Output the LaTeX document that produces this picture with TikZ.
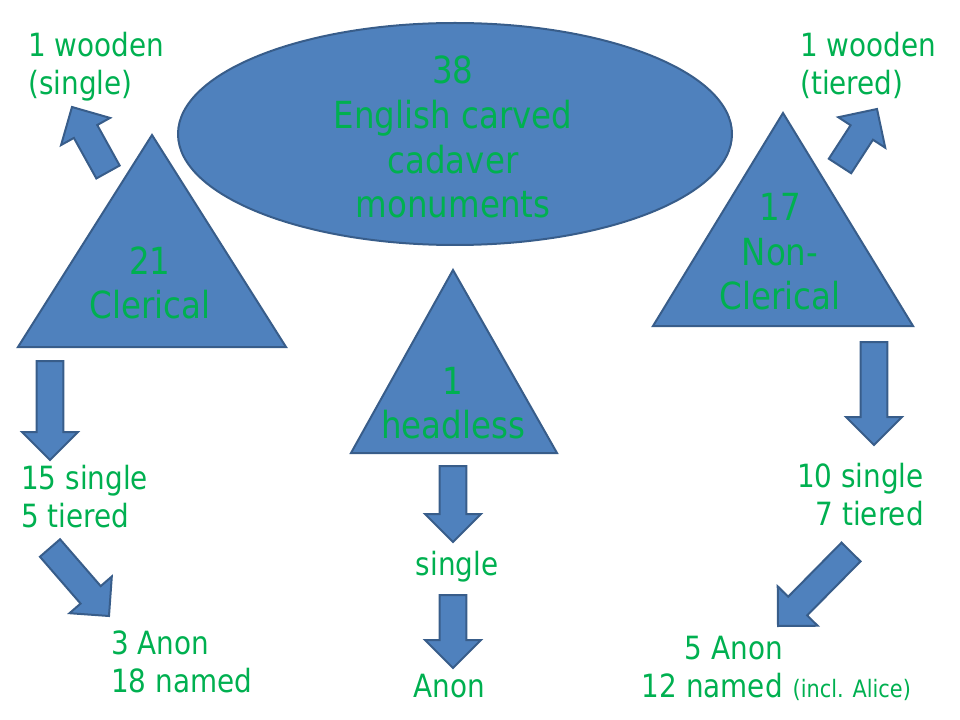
\documentclass[tikz,border=0pt]{standalone}
\usepackage{fontspec}
\setmainfont{DejaVu Sans}[FakeStretch=0.87]
\usetikzlibrary{shapes.geometric,calc,positioning}

\definecolor{shapeblue}{HTML}{4F81BD}
\definecolor{shapeline}{HTML}{385D8A}
\definecolor{textgreen}{HTML}{00B050}

% block arrow from tail #1 to tip #2
\newcommand{\fatarrow}[2]{%
  \coordinate (fa-h) at ($(#2)!21pt!(#1)$);
  \draw[bluefill] ($(#1)!10pt!90:(#2)$) -- ($(fa-h)!10pt!90:(#2)$)
    -- ($(fa-h)!21pt!90:(#2)$) -- (#2) -- ($(fa-h)!21pt!-90:(#2)$)
    -- ($(fa-h)!10pt!-90:(#2)$) -- ($(#1)!10pt!-90:(#2)$) -- cycle;}

\begin{document}
\begin{tikzpicture}[x=0.75pt,y=-0.75pt,
  bluefill/.style={fill=shapeblue,draw=shapeline,line width=1.5pt,line join=miter},
  greentext/.style={text=textgreen,inner sep=0pt,font=\fontsize{24}{28.5}\selectfont},
  bigtext/.style={greentext,font=\fontsize{28}{33.5}\selectfont}]

        \useasboundingbox (0,0) rectangle (960,720);

        % shapes
        \node (Tot) [bluefill,ellipse,minimum width=415.5pt,minimum height=166.5pt] at (455,134) {};
        \draw[bluefill] (152,135) coordinate (Cl) -- (286,347) -- (18,347) -- cycle;
        \draw[bluefill] (783,113) coordinate (NC) -- (913,326) -- (653,326) -- cycle;
        \draw[bluefill] (453,270) coordinate (Hd) -- (557,453) -- (351,453) -- cycle;

        % arrows
        \coordinate (a1) at (108,172); \coordinate (b1) at (72,107);
        \coordinate (a2) at (840,166); \coordinate (b2) at (877,109);
        \coordinate (a3) at (50,361);  \coordinate (b3) at (50,460);
        \coordinate (a4) at (50,548);  \coordinate (b4) at (109,616);
        \coordinate (a5) at (453,466); \coordinate (b5) at (453,542);
        \coordinate (a6) at (453,595); \coordinate (b6) at (453,668);
        \coordinate (a7) at (874,342); \coordinate (b7) at (874,445);
        \coordinate (a8) at (851,552); \coordinate (b8) at (778,626);
        \foreach \i in {1,...,8} {\fatarrow{a\i}{b\i}}

        % texts (anchored at the baseline of the last line)
        \node (TotT) [bigtext,align=center,anchor=base] at (453,218) {38\\English carved\\cadaver\\monuments};
        \node (ClT) [bigtext,align=center,anchor=base,font=\fontsize{28}{32.5}\selectfont] at (150,318) {21\\Clerical};
        \node (NCT) [bigtext,align=center,anchor=base] at (780,310) {17\\Non-\\Clerical};
        \node (HdT) [bigtext,align=center,anchor=base,font=\fontsize{28}{32.5}\selectfont] at (453,438) {1\\headless};

        \node (ClW) [greentext,align=left,anchor=base west] at (28,95) {1 wooden\\(single)};
        \node (NCW) [greentext,align=left,anchor=base west] at (800,95) {1 wooden\\(tiered)};
        \node (ClS) [greentext,align=left,anchor=base west] at (21,527) {15 single\\5 tiered};
        \node (ClN) [greentext,align=left,anchor=base west] at (111,692) {3 Anon\\18 named};
        \node (HdS) [greentext,anchor=base] at (457,575) {single};
        \node (HdN) [greentext,anchor=base] at (449,697) {Anon};
        \node (NCS) [greentext,align=right,anchor=base east] at (924,525) {10 single\\7 tiered};
        \node (NCA) [greentext,anchor=base east] at (783,659) {5 Anon};
        \node (NCN) [greentext,anchor=base east] at (783,697) {12 named};
        \node (Al) [greentext,base right=7pt of NCN,font=\fontsize{18}{21}\selectfont] {(incl. Alice)};
      \end{tikzpicture}
\end{document}
